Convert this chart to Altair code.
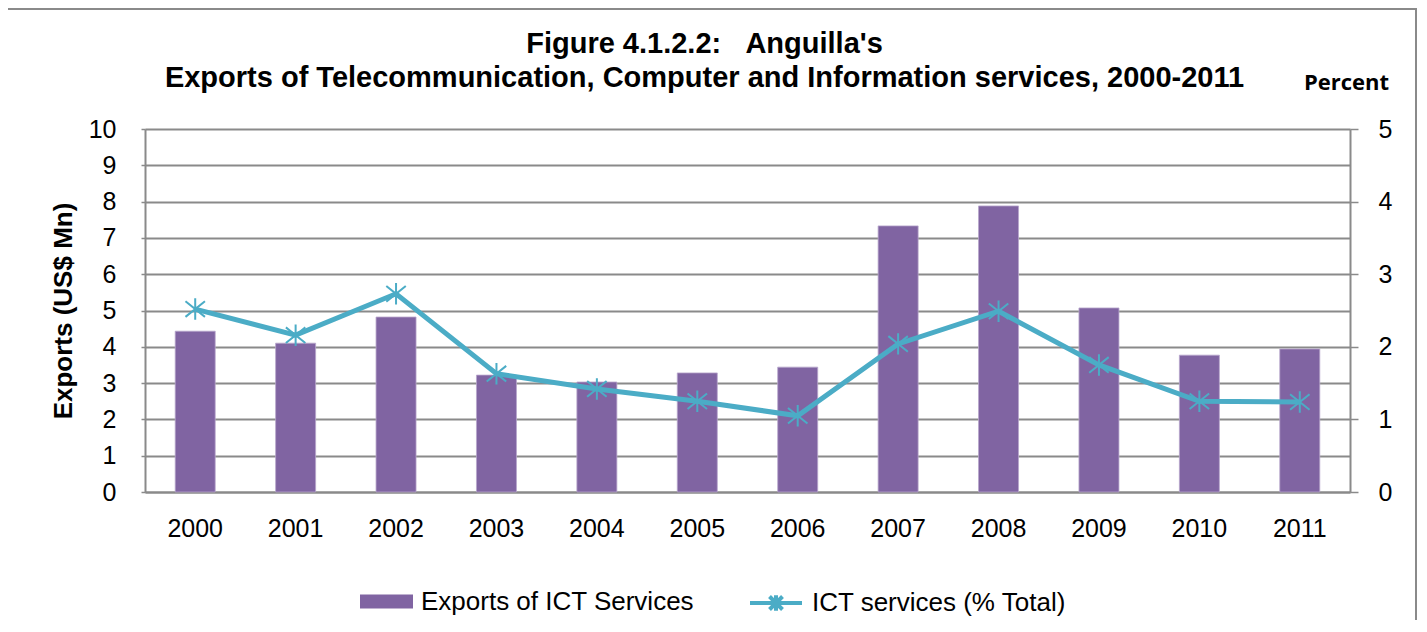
import altair as alt
import pandas as pd

years = ["2000", "2001", "2002", "2003", "2004", "2005",
         "2006", "2007", "2008", "2009", "2010", "2011"]
exports = [4.43, 4.10, 4.82, 3.22, 3.03, 3.28, 3.44, 7.33, 7.88, 5.07, 3.77, 3.94]
share = [2.52, 2.16, 2.73, 1.63, 1.42, 1.25, 1.05, 2.04, 2.49, 1.75, 1.25, 1.24]

bar_name = "Exports of ICT Services"
line_name = "ICT services (% Total)"

df = pd.DataFrame({"year": years, "exports": exports, "share": share})

FONT = "Liberation Sans"
BAR_C = "#8064A2"
LINE_C = "#4BACC6"
GRID_C = "#8a8a8a"
W, H = 1205, 363

x_enc = alt.X("year:N", sort=years, title=None,
              scale=alt.Scale(paddingInner=0.6, paddingOuter=0.3),
              axis=alt.Axis(labelAngle=0, labelFontSize=25, labelFont=FONT,
                            labelColor="#000", labelPadding=24, ticks=False,
                            domainColor=GRID_C, domainWidth=2, grid=False))

bars = alt.Chart(df).mark_bar(size=40, stroke="#b7a6cc", strokeWidth=0.8).encode(
    x=x_enc,
    y=alt.Y("exports:Q", scale=alt.Scale(domain=[0, 10]),
            title="Exports (US$ Mn)",
            axis=alt.Axis(values=list(range(0, 11)), labelFontSize=25, labelFont=FONT,
                          labelColor="#000", labelPadding=25, tickSize=4,
                          tickColor=GRID_C, tickWidth=1.5,
                          domainColor=GRID_C, domainWidth=2,
                          grid=True, gridColor=GRID_C, gridWidth=1.8,
                          titleFont=FONT, titleFontSize=26, titleFontWeight="bold",
                          titleColor="#000", titleAngle=-90, titleX=-74, titleY=H / 2,
                          titleAlign="center", titleBaseline="alphabetic")),
    color=alt.Color("bar_s:N",
                    scale=alt.Scale(domain=[bar_name], range=[BAR_C]),
                    legend=alt.Legend(orient="none", legendX=215, legendY=446,
                                      title=None, padding=0,
                                      symbolType="M-1,-0.26H1V0.26H-1Z",
                                      symbolSize=2809, symbolStrokeWidth=0,
                                      labelFontSize=26, labelFont=FONT, labelLimit=500,
                                      labelColor="#000", labelOffset=8)),
).transform_calculate(bar_s=f"'{bar_name}'")

right_axis = alt.Axis(orient="right", values=list(range(0, 6)),
                      labelFontSize=25, labelFont=FONT, labelColor="#000",
                      labelPadding=20, tickSize=8, tickColor=GRID_C, tickWidth=1.5,
                      domainColor=GRID_C, domainWidth=2, grid=False,
                      titleFont="Open Sans", titleFontSize=22,
                      titleFontWeight="bold", titleColor="#000",
                      titleAngle=0, titleX=-4, titleY=-47,
                      titleAlign="center", titleBaseline="middle")

y_right = alt.Y("share:Q", scale=alt.Scale(domain=[0, 5]), title="Percent", axis=right_axis)

stroke_scale = alt.Scale(domain=[line_name], range=[LINE_C])
stroke_enc = alt.Stroke("line_s:N", scale=stroke_scale,
                        legend=alt.Legend(orient="none", legendX=603, legendY=446,
                                          title=None, padding=0,
                                          symbolType="M-1,0H1M0,-0.3V0.3M-0.25,-0.25L0.25,0.25M-0.25,0.25L0.25,-0.25",
                                          symbolSize=2704, symbolStrokeWidth=4,
                                          symbolFillColor="transparent",
                                          labelFontSize=26, labelFont=FONT, labelLimit=500,
                                          labelColor="#000", labelOffset=8))

line = alt.Chart(df).mark_line(strokeWidth=5).encode(
    x=alt.X("year:N", sort=years),
    y=y_right,
    stroke=stroke_enc,
).transform_calculate(line_s=f"'{line_name}'")

pts = alt.Chart(df).mark_point(
    shape="M-1,-0.8L1,0.8M-1,0.8L1,-0.8M0,-1.1V1.1",
    filled=False, strokeWidth=2, size=380, opacity=1
).encode(
    x=alt.X("year:N", sort=years),
    y=y_right,
    stroke=stroke_enc,
).transform_calculate(line_s=f"'{line_name}'")

frame = alt.Chart(pd.DataFrame({"k": [0]})).mark_rect(
    fill=None, stroke="#8a8a8a", strokeWidth=2
).encode(
    x=alt.value(-142), x2=alt.value(W + 66),
    y=alt.value(-120), y2=alt.value(H + 200),
)

right_layer = alt.layer(line, pts)

chart = alt.layer(frame, bars, right_layer).resolve_scale(
    y="independent"
).properties(
    width=W, height=H,
    padding={"left": 137, "top": 121, "right": 68, "bottom": 128},
    autosize=alt.AutoSizeParams(type="none"),
    title=alt.TitleParams(
        ["Figure 4.1.2.2:\u00a0\u00a0\u00a0Anguilla's",
         "Exports of Telecommunication, Computer and Information services, 2000-2011"],
        font=FONT, fontSize=29, fontWeight="bold", color="#000",
        anchor="middle", dx=-43, offset=-85, lineHeight=34),
).configure_view(stroke=None).configure(background="white")

chart.save("out.html", embed_options={"renderer": "svg", "actions": False})
